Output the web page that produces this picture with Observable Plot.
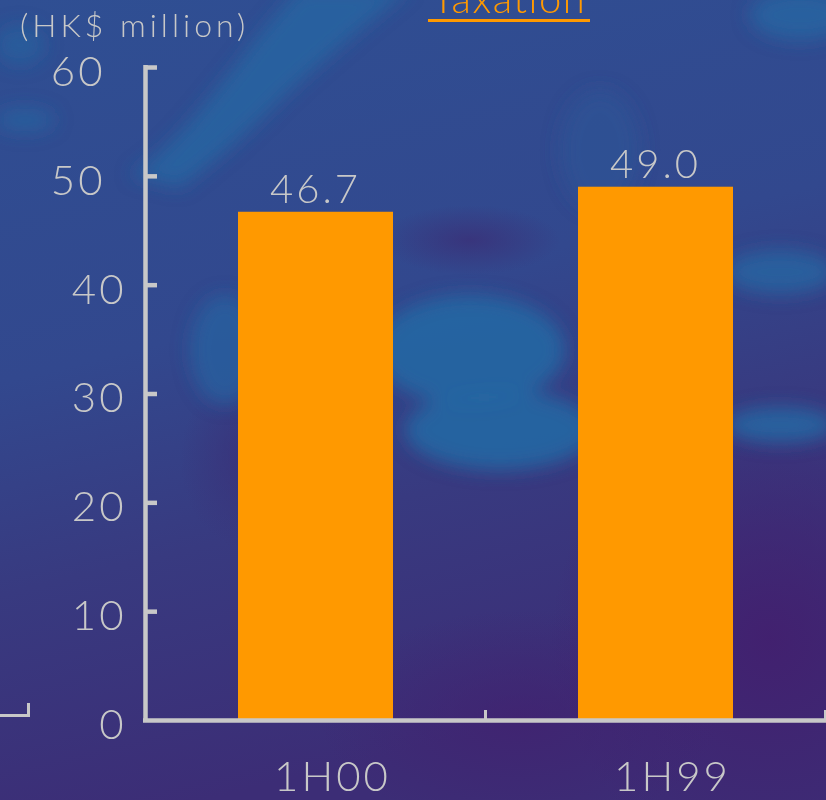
<!DOCTYPE html>
<html>
<head>
<meta charset="utf-8">
<script src="https://cdn.jsdelivr.net/npm/d3@7"></script>
<script src="https://cdn.jsdelivr.net/npm/@observablehq/plot@0.6"></script>
<style>
  html, body { margin: 0; padding: 0; background: #31468c; }
  #stage {
    position: relative; width: 826px; height: 800px; overflow: hidden;
    font-family: Lato, "Open Sans", "Noto Sans", sans-serif; font-weight: 300;
  }
  #backdrop { position: absolute; left: 0; top: 0; }
  #chart { position: absolute; left: 0; top: 0; }
  #chart svg text { letter-spacing: 3px; font-weight: 300; }
  #title {
    position: absolute; left: 428px; top: -26px; width: 162px; text-align: center;
    color: #ff9900; font-size: 40px; line-height: 48px; letter-spacing: 1.5px; white-space: nowrap;
  }
  #title-rule { position: absolute; left: 428px; top: 19px; width: 162px; height: 3px; background: #ff9900; }
  #unit {
    position: absolute; left: 20px; top: 5px; color: #c8c8c8;
    font-size: 32px; line-height: 40px; letter-spacing: 4px; white-space: nowrap;
  }
  #corner {
    position: absolute; left: -4px; top: 703px; width: 31px; height: 11px;
    border-right: 3px solid #c8c8c8; border-bottom: 3px solid #c8c8c8;
  }
</style>
</head>
<body>
<div id="stage">
  <svg id="backdrop" width="826" height="800">
    <defs>
      <linearGradient id="base" x1="0" y1="0" x2="0.25" y2="1">
        <stop offset="0" stop-color="#2f4f93"/>
        <stop offset="0.45" stop-color="#32488e"/>
        <stop offset="0.7" stop-color="#383a80"/>
        <stop offset="1" stop-color="#3c2d76"/>
      </linearGradient>
      <radialGradient id="dusk" cx="0.5" cy="0.5" r="0.5">
        <stop offset="0" stop-color="#42206f" stop-opacity="0.95"/>
        <stop offset="1" stop-color="#42206f" stop-opacity="0"/>
      </radialGradient>
      <radialGradient id="shade" cx="0.5" cy="0.5" r="0.5">
        <stop offset="0" stop-color="#3a3078" stop-opacity="0.8"/>
        <stop offset="1" stop-color="#3a3078" stop-opacity="0"/>
      </radialGradient>
      <filter id="soft" x="-30%" y="-30%" width="160%" height="160%">
        <feGaussianBlur stdDeviation="9"/>
      </filter>
    </defs>
    <rect width="826" height="800" fill="url(#base)"/>
    <ellipse cx="770" cy="640" rx="220" ry="230" fill="url(#dusk)"/>
    <ellipse cx="520" cy="720" rx="200" ry="110" fill="url(#dusk)" opacity="0.7"/>
    <ellipse cx="470" cy="240" rx="90" ry="35" fill="url(#shade)"/>
    <ellipse cx="250" cy="460" rx="70" ry="90" fill="url(#shade)"/>
    <g filter="url(#soft)" fill="#2567a3">
      <path d="M130,175 C170,150 200,110 240,60 C262,30 282,8 300,-12 L410,-12 C360,30 310,70 270,110 C240,140 210,165 180,188 Z" opacity="0.8"/>
      <ellipse cx="25" cy="120" rx="30" ry="12" opacity="0.6"/>
      <ellipse cx="20" cy="45" rx="25" ry="20" opacity="0.5"/>
      <ellipse cx="225" cy="350" rx="35" ry="55" opacity="0.65"/>
      <ellipse cx="470" cy="350" rx="95" ry="55" opacity="0.9"/>
      <ellipse cx="500" cy="430" rx="95" ry="40" opacity="0.9"/>
      <ellipse cx="780" cy="425" rx="55" ry="18" opacity="0.85"/>
      <ellipse cx="780" cy="272" rx="55" ry="22" opacity="0.8"/>
      <ellipse cx="800" cy="15" rx="50" ry="25" opacity="0.8"/>
      <ellipse cx="600" cy="150" rx="40" ry="60" fill="#2d5596" opacity="0.6"/>
    </g>
  </svg>
  <div id="chart"></div>
  <div id="title">Taxation</div>
  <div id="title-rule"></div>
  <div id="unit">(HK$ million)</div>
  <div id="corner"></div>
</div>
<script>
// Half-year taxation, HK$ million
const periods = ["1H00", "1H99"];
const taxation = [46.7, 49.0];
const yTicks = [0, 10, 20, 30, 40, 50, 60];

const data = periods.map((period, i) => ({period, value: taxation[i]}));

const W = 826, H = 800;
const mL = 145, mR = 1, mT = 67, mB = 80;
const halfStep = (W - mL - mR) / periods.length / 2;
const ink = "#c8c8c8";
const axisWidth = 4.5;

const chart = Plot.plot({
  width: W,
  height: H,
  marginLeft: mL,
  marginRight: mR,
  marginTop: mT,
  marginBottom: mB,
  x: {type: "band", domain: periods, padding: 0, axis: null},
  y: {domain: [0, 60], axis: null},
  style: {background: "transparent", overflow: "visible", fontFamily: "Lato, 'Open Sans', sans-serif"},
  marks: [
    Plot.barY(data, {x: "period", y: "value", fill: "#ff9900", insetLeft: 93, insetRight: 92}),
    // y axis spine and inward ticks
    Plot.ruleX([periods[0]], {x: d => d, dx: -halfStep, stroke: ink, strokeWidth: axisWidth, insetTop: -2, insetBottom: -2}),
    Plot.ruleY(yTicks.filter(d => d > 0), {y: d => d, stroke: ink, strokeWidth: axisWidth, insetLeft: 0, insetRight: W - mL - mR - 12}),
    // x axis baseline and band-boundary ticks
    Plot.ruleY([0], {stroke: ink, strokeWidth: axisWidth, insetLeft: -2, insetRight: -2}),
    Plot.ruleX(periods, {x: d => d, dx: halfStep, stroke: ink, strokeWidth: 3, insetTop: H - mT - mB - 10}),
    // tick labels
    Plot.text(yTicks.filter(d => d >= 50), {y: d => d, text: d => String(d), frameAnchor: "left", textAnchor: "end", dx: -40, dy: 5, fontSize: 42, fill: ink}),
    Plot.text(yTicks.filter(d => d < 50), {y: d => d, text: d => String(d), frameAnchor: "left", textAnchor: "end", dx: -19, dy: 5, fontSize: 42, fill: ink}),
    Plot.text(periods, {x: d => d, text: d => d, frameAnchor: "bottom", lineAnchor: "bottom", dx: 17, dy: 70, fontSize: 42, fill: ink}),
    // value labels
    Plot.text(data, {x: "period", y: "value", text: d => d.value.toFixed(1), lineAnchor: "bottom", dy: -9, fontSize: 40, fill: ink})
  ]
});

document.getElementById("chart").appendChild(chart);
</script>
</body>
</html>
